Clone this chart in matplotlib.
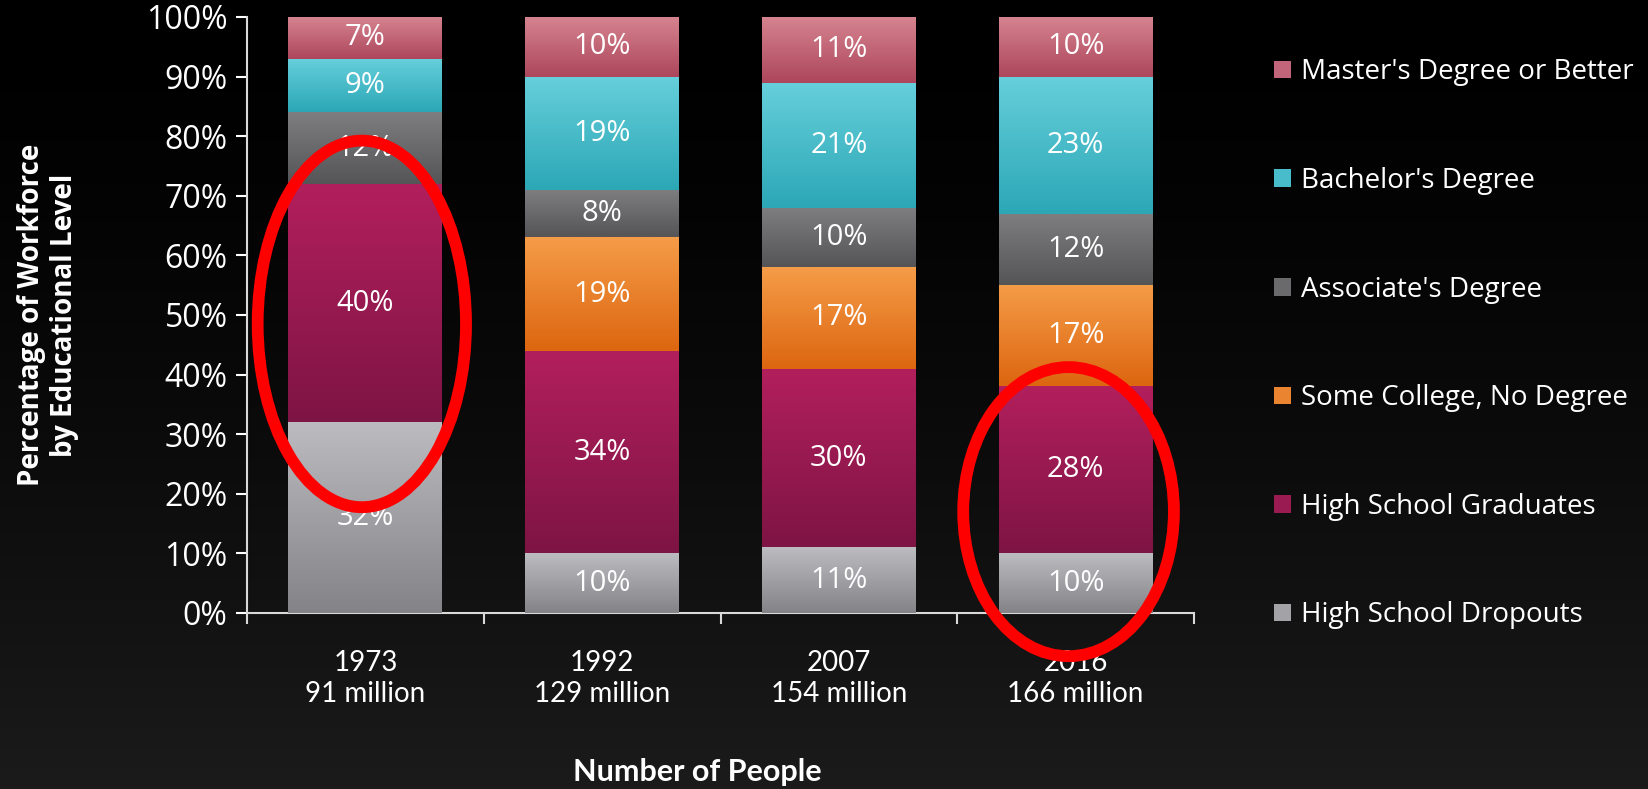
import numpy as np
import matplotlib
matplotlib.use("Agg")
import matplotlib.pyplot as plt
from matplotlib.colors import LinearSegmentedColormap
from matplotlib.patches import Ellipse, Patch

# data
years = ["1973\n91 million", "1992\n129 million", "2007\n154 million", "2016\n166 million"]
categories = ["High School Dropouts", "High School Graduates", "Some College, No Degree",
              "Associate's Degree", "Bachelor's Degree", "Master's Degree or Better"]
dropouts = [32, 10, 11, 10]
hs_grads = [40, 34, 30, 28]
some_college = [0, 19, 17, 17]
associates = [12, 8, 10, 12]
bachelors = [9, 19, 21, 23]
masters = [7, 10, 11, 10]
series = [dropouts, hs_grads, some_college, associates, bachelors, masters]

# (top colour, bottom colour) for each segment gradient
grads = [("#bcbcc0", "#838388"),
         ("#b21f5d", "#7e1444"),
         ("#f59c48", "#dd6610"),
         ("#7e7e80", "#555557"),
         ("#66cfdb", "#2ca7b6"),
         ("#d5838f", "#ad465c")]
legend_colors = ["#a3a3a7", "#9a1a52", "#ea8430", "#6a6a6c", "#48bccb", "#c3657a"]

plt.rcParams['font.family'] = ['Open Sans', 'DejaVu Sans']

fig = plt.figure(figsize=(16.49, 7.89), dpi=100)

# dark background gradient
bg = fig.add_axes([0, 0, 1, 1], zorder=-10)
g = np.linspace(0, 1, 256).reshape(-1, 1) ** 1.5
bg.imshow(g, aspect='auto', cmap=LinearSegmentedColormap.from_list("bg", ["#000000", "#1b1b1b"]),
          extent=[0, 1, 0, 1], origin='upper')
bg.axis('off')

ax = fig.add_axes([0.1498, 0.2231, 0.5743, 0.7554])
ax.set_facecolor('none')

x = np.arange(len(years))
bottom = np.zeros(len(years))
for vals, (ctop, cbot), name in zip(series, grads, categories):
    bars = ax.bar(x, vals, 0.65, bottom=bottom, color=cbot, label=name, zorder=2)
    cmap = LinearSegmentedColormap.from_list(name, [cbot, ctop])
    for rect, v in zip(bars, vals):
        if v == 0:
            continue
        bx, by = rect.get_x(), rect.get_y()
        ax.imshow(np.linspace(0, 1, 100).reshape(-1, 1), cmap=cmap, aspect='auto',
                  origin='lower', extent=[bx, bx + rect.get_width(), by, by + v], zorder=3)
        ax.text(bx + rect.get_width() / 2, by + v / 2, f"{v}%", ha='center', va='center',
                color='white', fontsize=21, zorder=4)
    bottom += np.array(vals)

ax.set_xlim(-0.5, 3.5)
ax.set_ylim(0, 100)
ax.set_yticks(np.arange(0, 101, 10))
ax.set_yticklabels([f"{v}%" for v in range(0, 101, 10)])
ax.set_xticks(np.arange(-0.5, 4, 1))
ax.set_xticklabels([])
ax.set_xticks(x, minor=True)
ax.set_xticklabels(years, minor=True, fontfamily=['Lato', 'DejaVu Sans'])
ax.tick_params(axis='x', which='minor', length=0, pad=27, labelsize=20, colors='white')
ax.tick_params(axis='x', which='major', length=8, width=1.5, direction='out', color='#d9d9d9')
ax.tick_params(axis='y', length=8, width=1.5, colors='white', labelsize=23, pad=6)
for s in ['top', 'right']:
    ax.spines[s].set_visible(False)
for s in ['left', 'bottom']:
    ax.spines[s].set_color('#d9d9d9')
    ax.spines[s].set_linewidth(1.5)

ax.set_ylabel("Percentage of Workforce\nby Educational Level", color='white',
              fontsize=20, fontweight='bold', labelpad=48)
ax.set_xlabel("Number of People", color='white', fontsize=22, fontweight='bold',
              fontfamily=['Lato', 'DejaVu Sans'], labelpad=37)
ax.xaxis.label.set_x(0.476)

# red highlight rings
for cx, cy, w, h in [(-0.015, 48.5, 0.88, 61.5), (2.97, 17.0, 0.89, 48.5)]:
    ax.add_patch(Ellipse((cx, cy), w, h, fill=False, edgecolor='#ff0000', linewidth=8.5,
                         zorder=10, clip_on=False))

handles = [Patch(facecolor=c, edgecolor='none') for c in legend_colors]
leg = fig.legend(handles[::-1], categories[::-1], loc='upper left',
                 bbox_to_anchor=(0.766, 0.94), frameon=False, fontsize=20,
                 handlelength=0.6, handleheight=0.6, handletextpad=0.35, labelspacing=2.9,
                 labelcolor='white', borderaxespad=0)

fig.savefig("out.png", dpi=100)
